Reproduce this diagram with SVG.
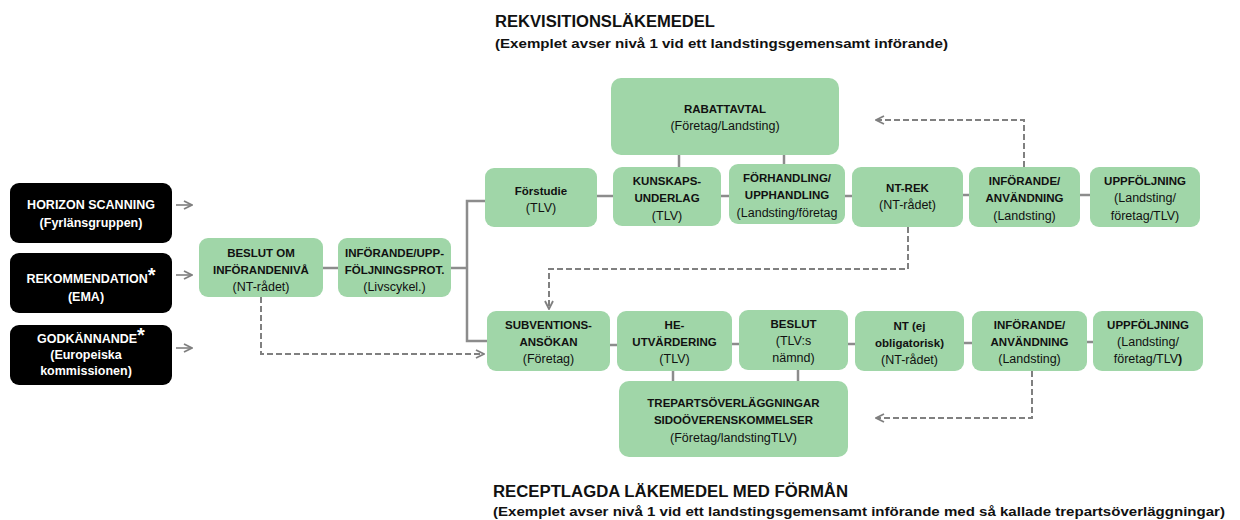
<svg xmlns="http://www.w3.org/2000/svg" width="1240" height="520" viewBox="0 0 1240 520">
<defs>
<marker id="arr" viewBox="0 0 10 10" refX="9" refY="5" markerWidth="10" markerHeight="10" markerUnits="userSpaceOnUse" orient="auto">
<path d="M1,1 L9,5 L1,9" fill="none" stroke="#7f7f7f" stroke-width="1.8"/>
</marker>
<style>
.blk{fill:#000;}
.grn{fill:#a0d6a8;}
.t{font-family:"Liberation Sans",Arial,sans-serif;font-size:12.5px;text-anchor:middle;fill:#111;}
.t.b{font-size:11.5px;font-weight:bold;}
.t.w{fill:#fff;font-size:12.5px;font-weight:bold;}
.ttl{font-family:"Liberation Sans",Arial,sans-serif;font-weight:bold;fill:#111;}
.sol{stroke:#8c8c8c;stroke-width:2.5;fill:none;}
.dsh{stroke:#808080;stroke-width:2;fill:none;stroke-dasharray:6,3;}
.sarr{stroke:#7f7f7f;stroke-width:1.6;fill:none;}
</style>
</defs>
<rect width="1240" height="520" fill="#fff"/>

<g id="titles">
<text class="ttl" x="495" y="27" font-size="16" textLength="220" lengthAdjust="spacingAndGlyphs">REKVISITIONSLÄKEMEDEL</text>
<text class="ttl" x="495" y="48" font-size="13" textLength="453" lengthAdjust="spacingAndGlyphs">(Exemplet avser nivå 1 vid ett landstingsgemensamt införande)</text>
<text class="ttl" x="493" y="497" font-size="16" textLength="355" lengthAdjust="spacingAndGlyphs">RECEPTLAGDA LÄKEMEDEL MED FÖRMÅN</text>
<text class="ttl" x="493" y="516" font-size="13" textLength="732" lengthAdjust="spacingAndGlyphs">(Exemplet avser nivå 1 vid ett landstingsgemensamt införande med så kallade trepartsöverläggningar)</text>
</g>

<g id="connectors">
<line class="sarr" x1="176" y1="205" x2="192" y2="205" marker-end="url(#arr)"/>
<line class="sarr" x1="176" y1="275" x2="192" y2="275" marker-end="url(#arr)"/>
<line class="sarr" x1="176" y1="348" x2="192" y2="348" marker-end="url(#arr)"/>
<line class="sol" x1="323" y1="268" x2="338" y2="268"/>
<line class="sol" x1="451" y1="268" x2="467" y2="268"/>
<polyline class="sol" points="486,201 467,201 467,341 488,341"/>
<line class="sol" x1="597" y1="196" x2="613" y2="196"/>
<line class="sol" x1="721" y1="196" x2="729" y2="196"/>
<line class="sol" x1="845" y1="196" x2="852" y2="196"/>
<line class="sol" x1="963" y1="195" x2="969" y2="195"/>
<line class="sol" x1="1080" y1="195" x2="1090" y2="195"/>
<line class="sol" x1="679" y1="155" x2="679" y2="167"/>
<line class="sol" x1="784" y1="155" x2="784" y2="164"/>
<line class="sol" x1="610" y1="345" x2="617" y2="345"/>
<line class="sol" x1="732" y1="344" x2="739" y2="344"/>
<line class="sol" x1="848" y1="344" x2="855" y2="344"/>
<line class="sol" x1="964" y1="343" x2="972" y2="343"/>
<line class="sol" x1="1087" y1="342" x2="1093" y2="342"/>
<line class="sol" x1="673" y1="371" x2="673" y2="381"/>
<line class="sol" x1="798" y1="370" x2="798" y2="381"/>
<polyline class="dsh" points="261,297 261,354 484,354" marker-end="url(#arr)"/>
<polyline class="dsh" points="908,227 908,269 549,269 549,309" marker-end="url(#arr)"/>
<polyline class="dsh" points="1024,167 1024,120 876,120" marker-end="url(#arr)"/>
<polyline class="dsh" points="1032,371 1032,418 876,418" marker-end="url(#arr)"/>
</g>

<g id="n-horizon">
<rect class="blk" x="10" y="183" width="162" height="60" rx="9"/>
<text class="t w" x="91" y="209">HORIZON SCANNING</text>
<text class="t w" x="91" y="227">(Fyrlänsgruppen)</text>
</g>
<g id="n-rekommendation">
<rect class="blk" x="10" y="253" width="162" height="60" rx="9"/>
<text class="t w" x="91" y="283">REKOMMENDATION<tspan font-size="20" dy="-1">*</tspan></text>
<text class="t w" x="86" y="301">(EMA)</text>
</g>
<g id="n-godkannande">
<rect class="blk" x="10" y="325" width="162" height="60" rx="9"/>
<text class="t w" x="91" y="343">GODKÄNNANDE<tspan font-size="20" dy="-1">*</tspan></text>
<text class="t w" x="86" y="359">(Europeiska</text>
<text class="t w" x="86" y="375">kommissionen)</text>
</g>

<g id="n-beslut-om">
<rect class="grn" x="199" y="238" width="124" height="59" rx="9"/>
<text class="t b" x="261" y="257">BESLUT OM</text>
<text class="t b" x="261" y="274">INFÖRANDENIVÅ</text>
<text class="t" x="261" y="291">(NT-rådet)</text>
</g>
<g id="n-inforande-upp">
<rect class="grn" x="338" y="238" width="113" height="59" rx="9"/>
<text class="t b" x="394.5" y="257">INFÖRANDE/UPP-</text>
<text class="t b" x="394.5" y="274">FÖLJNINGSPROT.</text>
<text class="t" x="394.5" y="291">(Livscykel.)</text>
</g>

<g id="n-rabattavtal">
<rect class="grn" x="611" y="78" width="228" height="77" rx="10"/>
<text class="t b" x="725" y="113">RABATTAVTAL</text>
<text class="t" x="725" y="130">(Företag/Landsting)</text>
</g>
<g id="n-forstudie">
<rect class="grn" x="485" y="168" width="112" height="59" rx="9"/>
<text class="t b" x="541" y="195">Förstudie</text>
<text class="t" x="541" y="212">(TLV)</text>
</g>
<g id="n-kunskaps">
<rect class="grn" x="613" y="167" width="108" height="59" rx="9"/>
<text class="t b" x="667" y="185">KUNSKAPS-</text>
<text class="t b" x="667" y="202">UNDERLAG</text>
<text class="t" x="667" y="220">(TLV)</text>
</g>
<g id="n-forhandling">
<rect class="grn" x="729" y="164" width="116" height="60" rx="9"/>
<text class="t b" x="787" y="182">FÖRHANDLING/</text>
<text class="t b" x="787" y="199">UPPHANDLING</text>
<text class="t" x="787" y="217">(Landsting/företag</text>
</g>
<g id="n-nt-rek">
<rect class="grn" x="852" y="167" width="111" height="60" rx="9"/>
<text class="t b" x="907.5" y="192">NT-REK</text>
<text class="t" x="907.5" y="209">(NT-rådet)</text>
</g>
<g id="n-inforande-top">
<rect class="grn" x="969" y="167" width="111" height="60" rx="9"/>
<text class="t b" x="1024.5" y="185">INFÖRANDE/</text>
<text class="t b" x="1024.5" y="202">ANVÄNDNING</text>
<text class="t" x="1024.5" y="220">(Landsting)</text>
</g>
<g id="n-uppfoljning-top">
<rect class="grn" x="1090" y="167" width="110" height="60" rx="9"/>
<text class="t b" x="1145" y="185">UPPFÖLJNING</text>
<text class="t" x="1145" y="202">(Landsting/</text>
<text class="t" x="1145" y="220">företag/TLV)</text>
</g>

<g id="n-subventions">
<rect class="grn" x="487" y="311" width="123" height="60" rx="9"/>
<text class="t b" x="548.5" y="329">SUBVENTIONS-</text>
<text class="t b" x="548.5" y="346">ANSÖKAN</text>
<text class="t" x="548.5" y="363">(Företag)</text>
</g>
<g id="n-he">
<rect class="grn" x="617" y="311" width="115" height="60" rx="9"/>
<text class="t b" x="674.5" y="329">HE-</text>
<text class="t b" x="674.5" y="346">UTVÄRDERING</text>
<text class="t" x="674.5" y="363">(TLV)</text>
</g>
<g id="n-beslut">
<rect class="grn" x="739" y="310" width="109" height="60" rx="9"/>
<text class="t b" x="793.5" y="328">BESLUT</text>
<text class="t" x="793.5" y="345">(TLV:s</text>
<text class="t" x="793.5" y="362">nämnd)</text>
</g>
<g id="n-nt-ej">
<rect class="grn" x="855" y="311" width="109" height="60" rx="9"/>
<text class="t b" x="909.5" y="330">NT (ej</text>
<text class="t b" x="909.5" y="347">obligatorisk)</text>
<text class="t" x="909.5" y="364">(NT-rådet)</text>
</g>
<g id="n-inforande-bottom">
<rect class="grn" x="972" y="311" width="115" height="60" rx="9"/>
<text class="t b" x="1029.5" y="329">INFÖRANDE/</text>
<text class="t b" x="1029.5" y="346">ANVÄNDNING</text>
<text class="t" x="1029.5" y="363">(Landsting)</text>
</g>
<g id="n-uppfoljning-bottom">
<rect class="grn" x="1093" y="311" width="110" height="60" rx="9"/>
<text class="t b" x="1148" y="329">UPPFÖLJNING</text>
<text class="t" x="1148" y="346">(Landsting/</text>
<text class="t" x="1148" y="363">företag/TLV<tspan font-weight="bold">)</tspan></text>
</g>
<g id="n-trepartsoverlaggningar">
<rect class="grn" x="619" y="381" width="229" height="76" rx="10"/>
<text class="t b" x="733.5" y="407">TREPARTSÖVERLÄGGNINGAR</text>
<text class="t b" x="733.5" y="424">SIDOÖVERENSKOMMELSER</text>
<text class="t" x="733.5" y="442">(Företag/landstingTLV)</text>
</g>
</svg>
